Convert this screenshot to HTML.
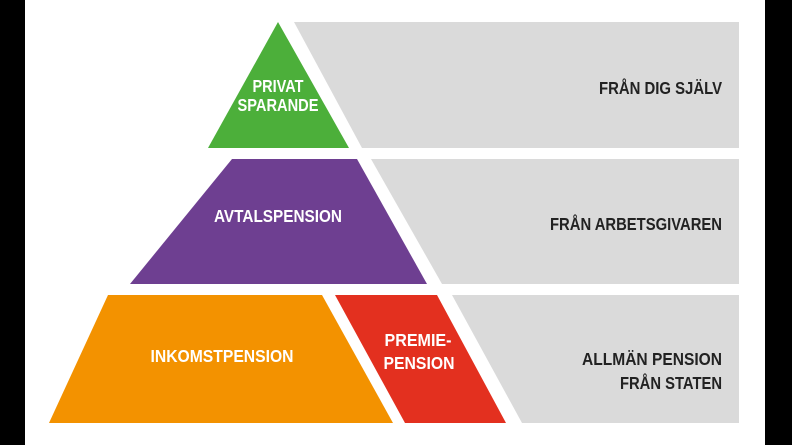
<!DOCTYPE html>
<html><head><meta charset="utf-8"><style>
html,body{margin:0;padding:0;background:#000;}
svg{display:block}
text{font-family:"Liberation Sans",sans-serif;font-weight:bold;font-size:17.5px;}
</style></head><body>
<svg width="792" height="445" viewBox="0 0 792 445" xmlns="http://www.w3.org/2000/svg">
<rect x="0" y="0" width="792" height="445" fill="#000"/>
<rect x="25" y="0" width="740" height="445" fill="#fff"/>
<polygon points="294,22 739,22 739,148 362,148" fill="#dadada"/>
<polygon points="371,159 739,159 739,284 442,284" fill="#dadada"/>
<polygon points="452,295 739,295 739,423 522,423" fill="#dadada"/>
<polygon points="278,22 349,148 208,148" fill="#4caf3a"/>
<polygon points="232,159 357,159 427,284 130,284" fill="#6e3f91"/>
<polygon points="108,295 322,295 393,423 49,423" fill="#f39200"/>
<polygon points="335,295 437,295 506,423 405,423" fill="#e3301f"/>
<g fill="#fff" text-anchor="middle">
<text x="278" y="92" textLength="51" lengthAdjust="spacingAndGlyphs">PRIVAT</text>
<text x="278" y="111" textLength="81" lengthAdjust="spacingAndGlyphs">SPARANDE</text>
<text x="278" y="222" textLength="128" lengthAdjust="spacingAndGlyphs">AVTALSPENSION</text>
<text x="222" y="362" textLength="143" lengthAdjust="spacingAndGlyphs">INKOMSTPENSION</text>
<text x="418" y="346" textLength="67" lengthAdjust="spacingAndGlyphs">PREMIE-</text>
<text x="419" y="369" textLength="71" lengthAdjust="spacingAndGlyphs">PENSION</text>
</g>
<g fill="#222" text-anchor="end">
<text x="722" y="94" textLength="123" lengthAdjust="spacingAndGlyphs">FRÅN DIG SJÄLV</text>
<text x="722" y="230" textLength="172" lengthAdjust="spacingAndGlyphs">FRÅN ARBETSGIVAREN</text>
<text x="722" y="365" textLength="140" lengthAdjust="spacingAndGlyphs">ALLMÄN PENSION</text>
<text x="722" y="389" textLength="102" lengthAdjust="spacingAndGlyphs">FRÅN STATEN</text>
</g>
</svg>
</body></html>
